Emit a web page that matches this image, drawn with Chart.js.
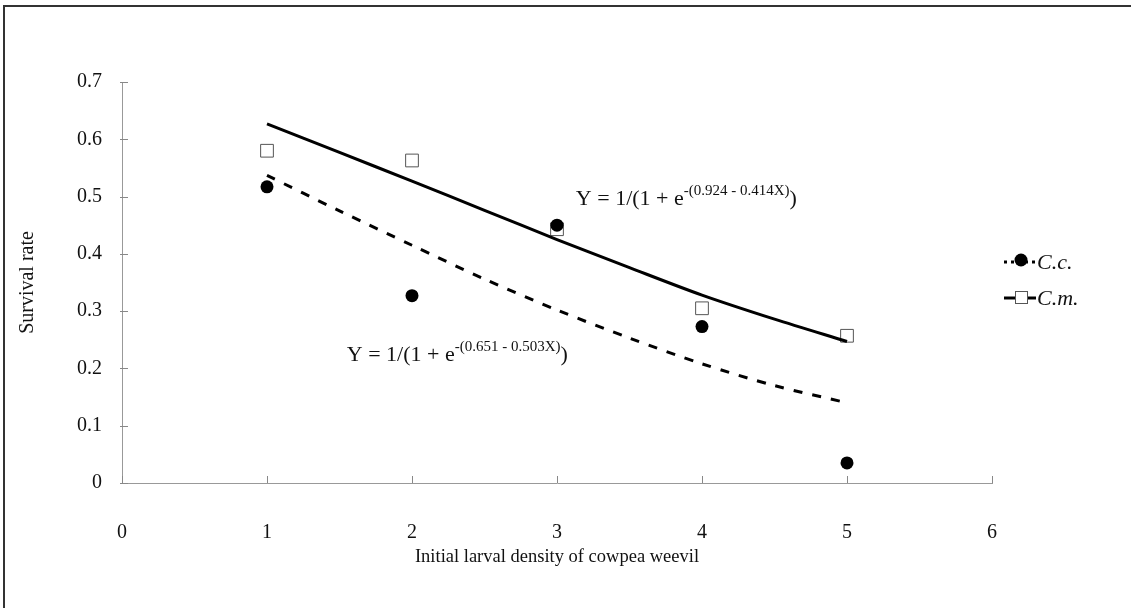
<!DOCTYPE html>
<html>
<head>
<meta charset="UTF-8">
<script src="https://cdn.jsdelivr.net/npm/chart.js@4.4.1/dist/chart.umd.min.js"></script>
<title>Survival rate</title>
<style>
	body { margin: 0; background: #fff; }
</style>
</head>
<body>
	<canvas id="chart" width="1131" height="608"></canvas>
	<script>
		// observed points
		var densities = [1, 2, 3, 4, 5];
		var survivalCc = [0.517, 0.327, 0.450, 0.273, 0.035];
		var survivalCm = [0.580, 0.563, 0.443, 0.305, 0.257];

		// fitted curves
		var fitX = [1, 1.5, 2, 2.5, 3, 3.5, 4, 4.5, 5];
		var fitCc = [0.537, 0.475, 0.415, 0.356, 0.302, 0.253, 0.208, 0.170, 0.140];
		var fitCm = [0.627, 0.577, 0.527, 0.476, 0.425, 0.376, 0.328, 0.286, 0.247];

		var xTicks = [0, 1, 2, 3, 4, 5, 6];
		var yTicks = [0, 0.1, 0.2, 0.3, 0.4, 0.5, 0.6, 0.7];

		var seriesNames = ['C.c.', 'C.m.'];
		var equations = [
			{ x: 3.13, y: 0.485, head: 'Y = 1/(1 + e', sup: '-(0.924 - 0.414X)' },
			{ x: 1.55, y: 0.213, head: 'Y = 1/(1 + e', sup: '-(0.651 - 0.503X)' }
		];

		var serif = '"Liberation Serif", "DejaVu Serif", serif';

		function pairs(xs, ys) {
			var out = [];
			for (var i = 0; i < xs.length; i++) out.push({ x: xs[i], y: ys[i] });
			return out;
		}

		// frame, white background
		var framePlugin = {
			id: 'frame',
			beforeDraw: function(chart) {
				var c = chart.ctx;
				c.save();
				c.fillStyle = '#fff';
				c.fillRect(0, 0, chart.width, chart.height);
				c.strokeStyle = '#333';
				c.lineWidth = 2;
				c.beginPath();
				c.moveTo(4, chart.height);
				c.lineTo(4, 6);
				c.lineTo(chart.width, 6);
				c.stroke();
				c.restore();
			}
		};

		// small tick marks crossing the axes
		var tickPlugin = {
			id: 'innerTicks',
			afterDatasetsDraw: function(chart) {
				var c = chart.ctx, xs = chart.scales.x, ys = chart.scales.y;
				c.save();
				c.strokeStyle = '#888';
				c.lineWidth = 1;
				c.beginPath();
				xTicks.forEach(function(v) {
					var px = Math.round(xs.getPixelForValue(v)) + 0.5;
					c.moveTo(px, ys.bottom);
					c.lineTo(px, ys.bottom - 7);
				});
				yTicks.forEach(function(v) {
					var py = Math.round(ys.getPixelForValue(v)) + 0.5;
					c.moveTo(xs.left - 2, py);
					c.lineTo(xs.left + 6, py);
				});
				c.stroke();
				c.restore();
			}
		};

		// equation texts
		var equationPlugin = {
			id: 'equations',
			afterDraw: function(chart) {
				var c = chart.ctx, xs = chart.scales.x, ys = chart.scales.y;
				c.save();
				c.fillStyle = '#111';
				c.textBaseline = 'alphabetic';
				equations.forEach(function(e) {
					var px = xs.getPixelForValue(e.x);
					var py = ys.getPixelForValue(e.y);
					c.font = '22px ' + serif;
					c.fillText(e.head, px, py);
					px += c.measureText(e.head).width;
					c.font = '15px ' + serif;
					c.fillText(e.sup, px, py - 10);
					px += c.measureText(e.sup).width;
					c.font = '22px ' + serif;
					c.fillText(')', px, py);
				});
				c.restore();
			}
		};

		// legend with line + marker
		var legendPlugin = {
			id: 'sideLegend',
			afterDraw: function(chart) {
				var c = chart.ctx;
				var rows = [
					{ y: 262, pt: chart.data.datasets[2] },
					{ y: 298, pt: chart.data.datasets[3] }
				];
				c.save();
				rows.forEach(function(r, i) {
					c.strokeStyle = '#000';
					c.lineWidth = 3;
					c.setLineDash(i === 0 ? [3, 4] : []);
					c.beginPath();
					c.moveTo(1004, r.y);
					c.lineTo(1036, r.y);
					c.stroke();
					c.setLineDash([]);
					if (i === 0) {
						c.fillStyle = r.pt.backgroundColor;
						c.beginPath();
						c.arc(1021, r.y - 2, 6.5, 0, Math.PI * 2);
						c.fill();
					} else {
						c.fillStyle = '#fff';
						c.fillRect(1015, r.y - 7, 13, 13);
						c.strokeStyle = '#555';
						c.lineWidth = 1;
						c.strokeRect(1015.5, r.y - 6.5, 12, 12);
					}
					c.fillStyle = '#111';
					c.font = 'italic 22px ' + serif;
					c.textBaseline = 'middle';
					c.fillText(seriesNames[i], 1037, r.y + 1);
				});
				c.restore();
			}
		};

		var ctx = document.getElementById('chart').getContext('2d');
		var chart = new Chart(ctx, {
			type: 'scatter',
			data: {
				datasets: [{
					label: seriesNames[0] + ' fit',
					data: pairs(fitX, fitCc),
					showLine: true,
					borderColor: '#000',
					borderWidth: 3,
					borderDash: [9, 10],
					pointRadius: 0,
					tension: 0.3
				}, {
					label: seriesNames[1] + ' fit',
					data: pairs(fitX, fitCm),
					showLine: true,
					borderColor: '#000',
					borderWidth: 3,
					pointRadius: 0,
					tension: 0.3
				}, {
					label: seriesNames[0],
					data: pairs(densities, survivalCc),
					pointStyle: 'circle',
					pointRadius: 6.5,
					backgroundColor: '#000',
					borderColor: '#000',
					borderWidth: 0
				}, {
					label: seriesNames[1],
					data: pairs(densities, survivalCm),
					pointStyle: 'rect',
					pointRadius: 9,
					backgroundColor: '#fff',
					borderColor: '#555',
					borderWidth: 1
				}]
			},
			options: {
				responsive: false,
				animation: false,
				layout: { padding: { left: 0, top: 82, right: 139, bottom: 0 } },
				plugins: {
					legend: { display: false },
					tooltip: { enabled: false }
				},
				scales: {
					x: {
						type: 'linear',
						min: 0,
						max: 6,
						afterBuildTicks: function(s) { s.ticks = xTicks.map(function(v) { return { value: v }; }); },
						afterFit: function(s) { s.height = 125; },
						grid: { drawOnChartArea: false, drawTicks: false },
						border: { color: '#999', width: 1 },
						ticks: {
							padding: 38,
							color: '#111',
							font: { family: serif, size: 20 },
							maxRotation: 0
						},
						title: {
							display: true,
							text: 'Initial larval density of cowpea weevil',
							color: '#111',
							font: { family: serif, size: 18.5 },
							padding: { top: 6, bottom: 40 }
						}
					},
					y: {
						min: 0,
						max: 0.7,
						afterBuildTicks: function(s) { s.ticks = yTicks.map(function(v) { return { value: v }; }); },
						afterFit: function(s) { s.width = 122; },
						grid: { drawOnChartArea: false, drawTicks: false },
						border: { color: '#999', width: 1 },
						ticks: {
							padding: 20,
							color: '#111',
							font: { family: serif, size: 20 },
							callback: function(v) { return String(Math.round(v * 10) / 10); }
						},
						title: {
							display: true,
							text: 'Survival rate',
							color: '#111',
							font: { family: serif, size: 20 },
							padding: { top: 16, bottom: 0 }
						}
					}
				}
			},
			plugins: [framePlugin, tickPlugin, equationPlugin, legendPlugin]
		});
	</script>
</body>
</html>
